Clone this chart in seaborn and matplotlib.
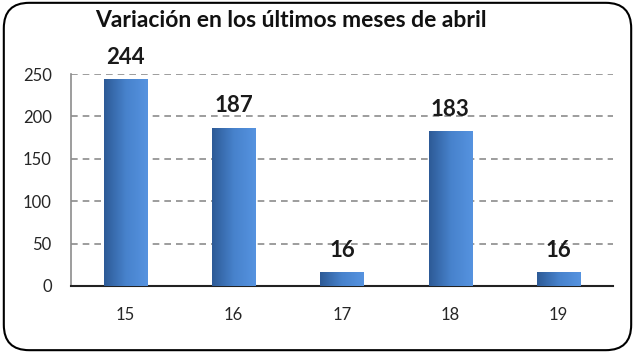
import numpy as np
import pandas as pd
import matplotlib
matplotlib.use("Agg")
import matplotlib.pyplot as plt
import seaborn as sns
from matplotlib.patches import FancyBboxPatch
from matplotlib.colors import LinearSegmentedColormap

# datos
anios = ['15', '16', '17', '18', '19']
valores = [244, 187, 16, 183, 16]
titulo = 'Variación en los últimos meses de abril'

df = pd.DataFrame({'Año': anios, 'Valor': valores})

sns.set_style('white')
plt.rcParams['font.family'] = ['Lato', 'DejaVu Sans']

fig = plt.figure(figsize=(6.35, 3.53), dpi=100)
ax = fig.add_axes([0.112, 0.19, 0.853, 0.60])

sns.barplot(x='Año', y='Valor', data=df, color='#3F78C0', width=0.4, ax=ax,
            edgecolor='none', zorder=3)

# degradado en las barras
cmap = LinearSegmentedColormap.from_list('azul', ['#2D5A96', '#4782CC', '#5693E0'])
grad = np.linspace(0, 1, 256).reshape(1, -1)
for p in ax.patches:
    x0, y0 = p.get_x(), p.get_y()
    w, h = p.get_width(), p.get_height()
    im = ax.imshow(grad, extent=[x0, x0 + w, y0, y0 + h], cmap=cmap,
                   aspect='auto', zorder=4)
    im.set_clip_path(p)
    ax.annotate(str(int(h)), (x0 + w / 2, y0 + h), xytext=(0, 8),
                textcoords='offset points', ha='center', va='bottom',
                fontsize=16, fontweight='bold', color='#1a1a1a', zorder=5)

ax.set_xlim(-0.5, len(anios) - 0.5)
ax.set_ylim(0, 250)
ax.set_yticks([0, 50, 100, 150, 200, 250])
ax.yaxis.grid(True, linestyle=(0, (4, 3)), color='#8c8c8c', linewidth=1.2, zorder=0)
ax.set_axisbelow(True)

ax.set_xticks(np.arange(-0.5, len(anios), 1.0), minor=True)
ax.tick_params(axis='x', which='major', length=0, pad=15, labelsize=12)
ax.tick_params(axis='x', which='minor', length=5, width=1.2, color='#222222')
ax.tick_params(axis='y', length=6, color='#888888', labelsize=12, pad=8,
               direction='out')
ax.set_xlabel('')
ax.set_ylabel('')

for s in ['top', 'right']:
    ax.spines[s].set_visible(False)
ax.spines['left'].set_color('#8c8c8c')
ax.spines['left'].set_linewidth(1.2)
ax.spines['bottom'].set_color('#222222')
ax.spines['bottom'].set_linewidth(1.5)

fig.text(0.458, 0.943, titulo, ha='center', va='center', fontsize=16.5,
         fontweight='bold', color='#111111')

borde = FancyBboxPatch((0.006, 0.008), 0.988, 0.984, transform=fig.transFigure,
                       boxstyle='round,pad=0,rounding_size=0.04',
                       facecolor='none', edgecolor='black', linewidth=1.5,
                       mutation_aspect=635 / 353)
fig.patches.append(borde)

fig.savefig('out.png', dpi=100)
